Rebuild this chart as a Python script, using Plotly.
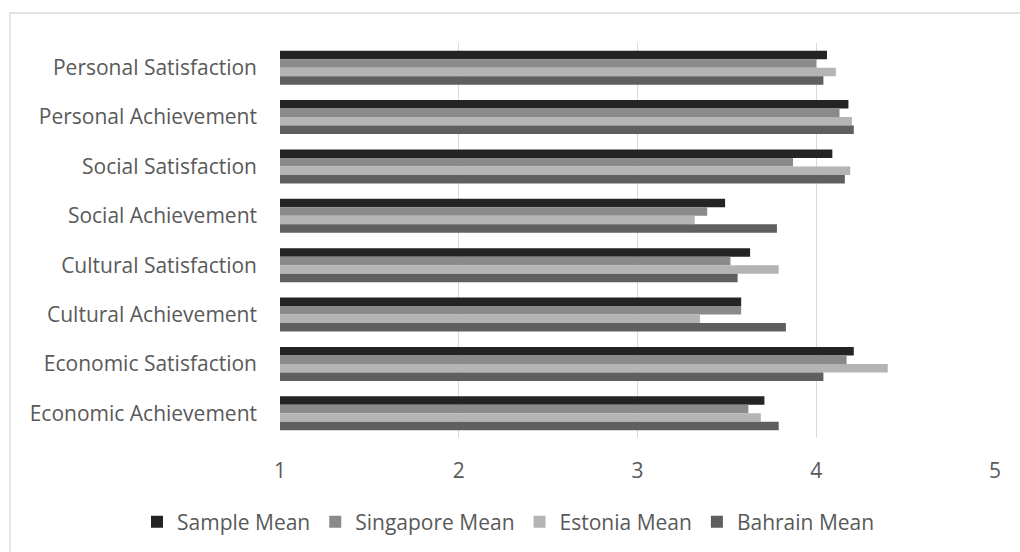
import plotly.graph_objects as go

# Survey dimensions, listed top to bottom
categories = [
    "Personal Satisfaction",
    "Personal Achievement",
    "Social Satisfaction",
    "Social Achievement",
    "Cultural Satisfaction",
    "Cultural Achievement",
    "Economic Satisfaction",
    "Economic Achievement",
]

sample_mean = [4.06, 4.18, 4.09, 3.49, 3.63, 3.58, 4.21, 3.71]
singapore_mean = [4.00, 4.13, 3.87, 3.39, 3.52, 3.58, 4.17, 3.62]
estonia_mean = [4.11, 4.20, 4.19, 3.32, 3.79, 3.35, 4.40, 3.69]
bahrain_mean = [4.04, 4.21, 4.16, 3.78, 3.56, 3.83, 4.04, 3.79]

x_ticks = [1, 2, 3, 4, 5]

series = [
    ("Sample Mean", sample_mean, "#242424"),
    ("Singapore Mean", singapore_mean, "#8a8a8a"),
    ("Estonia Mean", estonia_mean, "#b4b4b4"),
    ("Bahrain Mean", bahrain_mean, "#5f5f5f"),
]

W, H = 1020, 552
ML, MR, MT, MB = 280, 25, 43, 114
pw, ph = W - ML - MR, H - MT - MB


def px_to_paper(xp, yp):
    return (xp - ML) / pw, (H - MB - yp) / ph


fig = go.Figure()
for name, vals, color in series:
    fig.add_trace(go.Bar(
        y=categories, x=vals, name=name, orientation="h",
        marker=dict(color=color, line=dict(width=0)),
    ))

font = "Open Sans, Lato, sans-serif"
leg_x, leg_y = px_to_paper(137, 522)
fig.update_layout(
    width=W, height=H,
    margin=dict(l=ML, r=MR, t=MT, b=MB, autoexpand=False),
    paper_bgcolor="white", plot_bgcolor="white",
    barmode="group", bargap=0.31, bargroupgap=0,
    font=dict(family=font, size=21, color="#595959"),
    showlegend=True,
    legend=dict(
        orientation="h", x=leg_x, xanchor="left", y=leg_y, yanchor="middle",
        font=dict(size=21, color="#595959"), itemwidth=30,
        traceorder="normal", bgcolor="rgba(0,0,0,0)",
    ),
    xaxis=dict(
        range=[1, 5], tickvals=x_ticks, showgrid=True,
        gridcolor="#d9d9d9", gridwidth=1.3, zeroline=False,
        showline=False, ticks="", ticklabelstandoff=18,
    ),
    yaxis=dict(
        categoryorder="array", categoryarray=categories,
        autorange="reversed", showgrid=False, zeroline=False,
        showline=False, ticks="", ticklabelstandoff=22,
    ),
)

# Thin frame around the chart area (top and left edges)
x0, y0 = px_to_paper(10, 13)
x1, y1 = px_to_paper(1030, 570)
fig.add_shape(type="rect", xref="paper", yref="paper",
              x0=x0, y0=y1, x1=x1, y1=y0,
              line=dict(color="#d9d9d9", width=1.3), layer="below")

fig.write_html("out.html")
